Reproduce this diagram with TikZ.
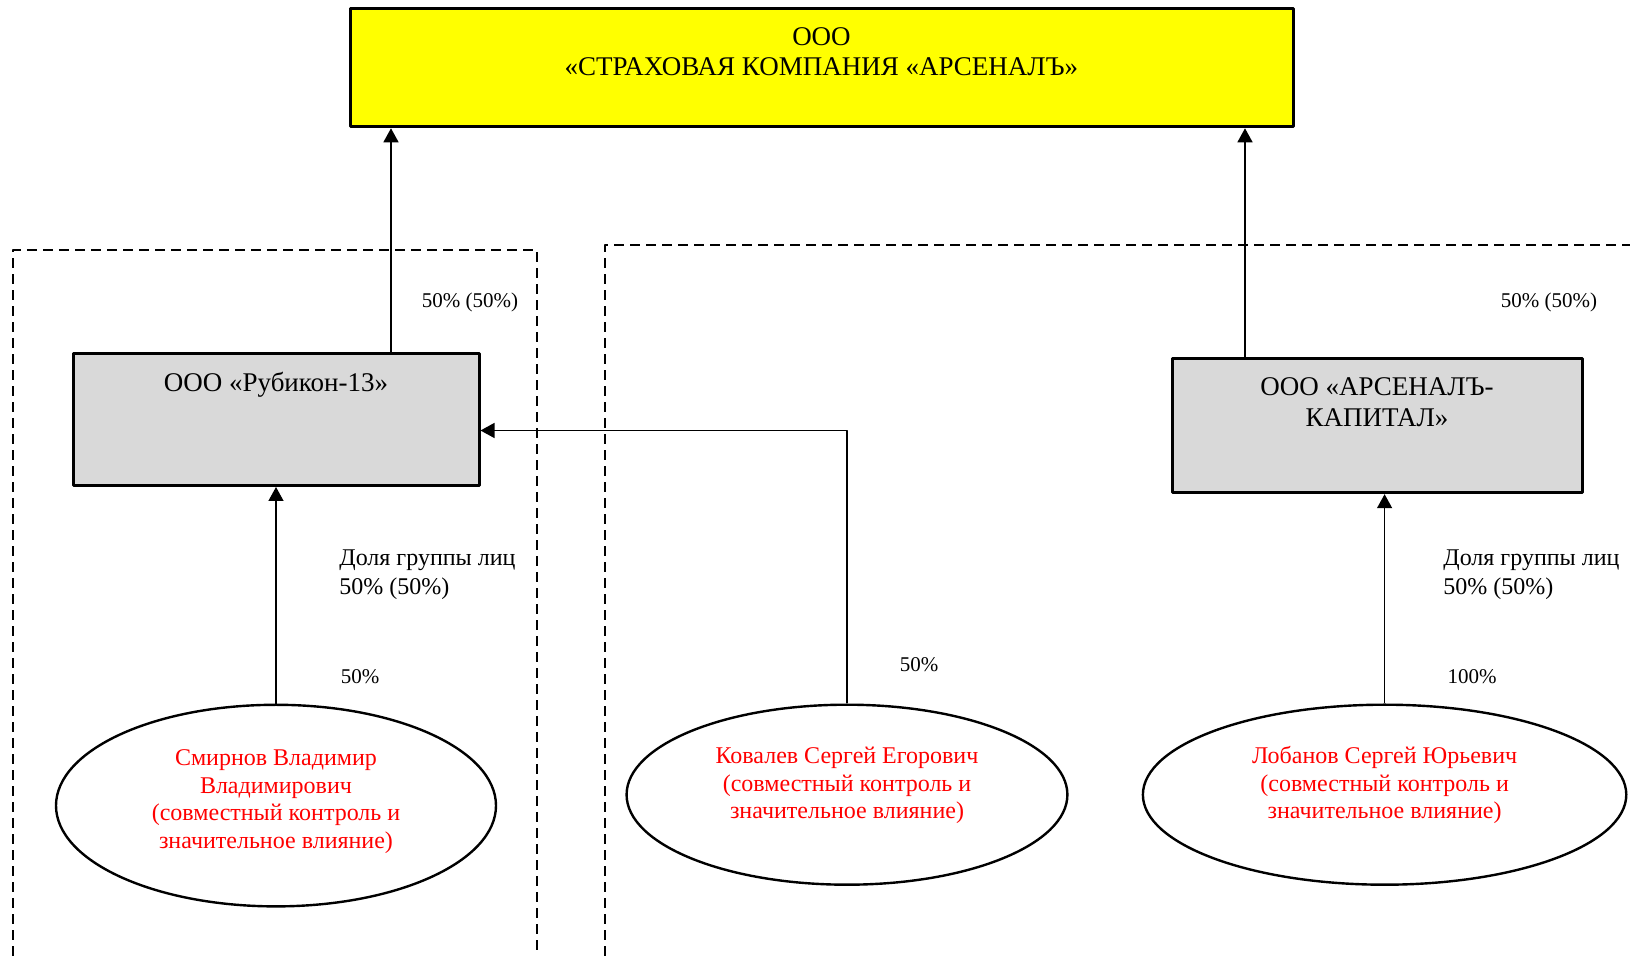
\documentclass[tikz,border=0pt]{standalone}
\usepackage{fontspec}
\setmainfont{Liberation Serif}
\usetikzlibrary{arrows.meta,shapes.geometric}
\definecolor{boxyellow}{RGB}{255,255,0}
\definecolor{boxgrey}{RGB}{217,217,217}
\begin{document}
\begin{tikzpicture}[x=0.5pt,y=-0.5pt,line join=round,>={Triangle[length=7pt,width=7.5pt]},
  box/.style={draw,line width=1.5pt,inner sep=0pt},
  topbox/.style={box,fill=boxyellow,minimum width=471.5pt,minimum height=59.3pt},
  greybox/.style={box,fill=boxgrey},
  person/.style={draw,ellipse,line width=1.2pt,inner sep=0pt},
  intext/.style={font=\fontsize{13.5}{15}\selectfont,align=center,inner sep=0pt},
  redtext/.style={font=\fontsize{12}{13.75}\selectfont,align=center,inner sep=0pt,text=red},
  share/.style={font=\fontsize{10.5}{12}\selectfont,inner sep=0pt},
  group/.style={font=\fontsize{12}{14.5}\selectfont,align=left,inner sep=0pt,anchor=west},
  frame/.style={line width=1pt,dash pattern=on 5pt off 3pt},
  link/.style={->,line width=0.7pt}]
\useasboundingbox (0,0) rectangle (1630,956);
% dashed groups
\draw[frame] (12.5,956) |- (537,250.5) -- (537,956);
\draw[frame] (605,956) |- (1630,245);
% companies
\node[topbox,label={[intext,anchor=north,yshift=-10.5pt]north:{ООО\\«СТРАХОВАЯ КОМПАНИЯ «АРСЕНАЛЪ»}}] (sk) at (821.5,67.5) {};
\node[greybox,minimum width=203pt,minimum height=66pt,label={[intext,anchor=north,yshift=-9.8pt]north:{ООО «Рубикон-13»}}] (rub) at (276,419.5) {};
\node[greybox,minimum width=205pt,minimum height=67pt,label={[intext,anchor=north,yshift=-10pt,font=\fontsize{13.5}{15.5}\selectfont]north:{ООО «АРСЕНАЛЪ-\\КАПИТАЛ»}}] (ak) at (1377,425.7) {};
% persons
\node[person,minimum width=220pt,minimum height=100.8pt,label={[redtext,yshift=2pt]center:{Смирнов Владимир\\Владимирович\\(совместный контроль и\\значительное влияние)}}] (smir) at (276,805.6) {};
\node[person,minimum width=220.4pt,minimum height=90pt,label={[redtext,yshift=4.5pt]center:{Ковалев Сергей Егорович\\(совместный контроль и\\значительное влияние)}}] (kov) at (847,794.7) {};
\node[person,minimum width=241.7pt,minimum height=90pt,label={[redtext,yshift=4.7pt]center:{Лобанов Сергей Юрьевич\\(совместный контроль и\\значительное влияние)}}] (lob) at (1384.6,794.7) {};
% shares
\node[share] (rubshare) at (470,302.5) {50\% (50\%)};
\node[share] (akshare) at (1549,302.5) {50\% (50\%)};
\node[group] (rubgroup) at (339,574.5) {Доля группы лиц\\50\% (50\%)};
\node[group] (akgroup) at (1443,574.5) {Доля группы лиц\\50\% (50\%)};
\node[share] (smirshare) at (360,677) {50\%};
\node[share] (kovshare) at (919,665) {50\%};
\node[share] (lobshare) at (1472,677) {100\%};
% links
\draw[link] ([xshift=57.5pt]rub.north) -- ([xshift=57.5pt]rub.north |- sk.south);
\draw[link] ([xshift=-66pt]ak.north) -- ([xshift=-66pt]ak.north |- sk.south);
\draw[link] (smir.north) -- (rub.south);
\draw[link] (kov.north) |- ([yshift=-5.5pt]rub.east);
\draw[link] (lob.north) -- (lob.north |- ak.south);
\end{tikzpicture}
\end{document}
